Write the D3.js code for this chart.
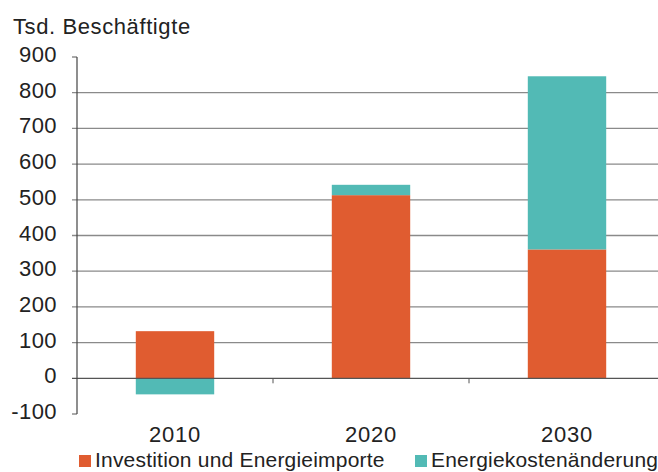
<!DOCTYPE html>
<html>
<head>
<meta charset="utf-8">
<script src="https://cdn.jsdelivr.net/npm/d3@7"></script>
<style>
  body { margin: 0; background: #fff; }
  svg text { font-family: "Liberation Sans", Arial, sans-serif; fill: #222; }
</style>
</head>
<body>
<div id="chart"></div>
<script>
// Daten
const years = ["2010", "2020", "2030"];
const investition = [132, 513, 361];
const energiekosten = [-45, 29, 485];
const yTicks = [-100, 0, 100, 200, 300, 400, 500, 600, 700, 800, 900];
const seriesNames = ["Investition und Energieimporte", "Energiekostenänderung"];
const colors = ["#e05c30", "#52bab5"];

const width = 658, height = 472;

const svg = d3.select("#chart")
    .append("svg")
    .attr("width", width)
    .attr("height", height);

const x = d3.scaleBand()
    .domain(years)
    .range([77, 665]);

const y = d3.scaleLinear()
    .domain([-100, 900])
    .range([414, 57]);

// Gitternetz
svg.append("g")
    .selectAll("line")
    .data(yTicks.filter(d => d > 0 && d < 900))
    .enter()
    .append("line")
    .attr("x1", 72)
    .attr("x2", width)
    .attr("y1", d => y(d))
    .attr("y2", d => y(d))
    .attr("stroke", "#8a8a8a")
    .attr("stroke-width", 1.3);

// kurze Striche bei 900 und -100
svg.append("g")
    .selectAll("line")
    .data([900, -100])
    .enter()
    .append("line")
    .attr("x1", 72)
    .attr("x2", 77)
    .attr("y1", d => y(d))
    .attr("y2", d => y(d))
    .attr("stroke", "#555");

// y-Achse Beschriftung
svg.append("g")
    .selectAll("text")
    .data(yTicks)
    .enter()
    .append("text")
    .attr("x", 57)
    .attr("y", d => y(d) + 5)
    .attr("text-anchor", "end")
    .style("font-size", "22px")
    .style("letter-spacing", "0.4px")
    .text(d => d);

const barW = x.bandwidth() * 0.4;

// Balken Investition
svg.selectAll(".bar-inv")
    .data(years)
    .enter()
    .append("rect")
    .attr("class", "bar-inv")
    .attr("x", d => x(d) + (x.bandwidth() - barW) / 2)
    .attr("y", (d, i) => y(Math.max(0, investition[i])))
    .attr("width", barW)
    .attr("height", (d, i) => Math.abs(y(investition[i]) - y(0)))
    .attr("fill", colors[0]);

// Balken Energiekosten (gestapelt)
svg.selectAll(".bar-en")
    .data(years)
    .enter()
    .append("rect")
    .attr("class", "bar-en")
    .attr("x", d => x(d) + (x.bandwidth() - barW) / 2)
    .attr("y", (d, i) => energiekosten[i] >= 0 ? y(investition[i] + energiekosten[i]) : y(0))
    .attr("width", barW)
    .attr("height", (d, i) => Math.abs(y(energiekosten[i]) - y(0)))
    .attr("fill", colors[1]);

// Nulllinie
svg.append("line")
    .attr("x1", 72)
    .attr("x2", width)
    .attr("y1", y(0))
    .attr("y2", y(0))
    .attr("stroke", "#555")
    .attr("stroke-width", 1.3);

// Kategorie-Trennstriche
svg.append("g")
    .selectAll("line")
    .data(years.slice(1))
    .enter()
    .append("line")
    .attr("x1", d => x(d))
    .attr("x2", d => x(d))
    .attr("y1", y(0))
    .attr("y2", y(0) + 5)
    .attr("stroke", "#555");

// y-Achse
svg.append("line")
    .attr("x1", 77)
    .attr("x2", 77)
    .attr("y1", y(900))
    .attr("y2", y(-100))
    .attr("stroke", "#444")
    .attr("stroke-width", 1.2);

// Jahre
svg.append("g")
    .selectAll("text")
    .data(years)
    .enter()
    .append("text")
    .attr("x", d => x(d) + x.bandwidth() / 2)
    .attr("y", 442)
    .attr("text-anchor", "middle")
    .style("font-size", "22px")
    .style("letter-spacing", "0.8px")
    .text(d => d);

// Titel
svg.append("text")
    .attr("x", 13)
    .attr("y", 34)
    .style("font-size", "22px")
    .style("letter-spacing", "0.6px")
    .text("Tsd. Beschäftigte");

// Legende
const legendX = [79, 415];
const legend = svg.append("g")
    .selectAll("g")
    .data(seriesNames)
    .enter()
    .append("g")
    .attr("transform", (d, i) => "translate(" + legendX[i] + ",0)");

legend.append("rect")
    .attr("x", 0)
    .attr("y", 455)
    .attr("width", 12)
    .attr("height", 12)
    .attr("fill", (d, i) => colors[i]);

legend.append("text")
    .attr("x", 16)
    .attr("y", 467)
    .style("font-size", "21px")
    .style("letter-spacing", "0.2px")
    .text(d => d);
</script>
</body>
</html>
